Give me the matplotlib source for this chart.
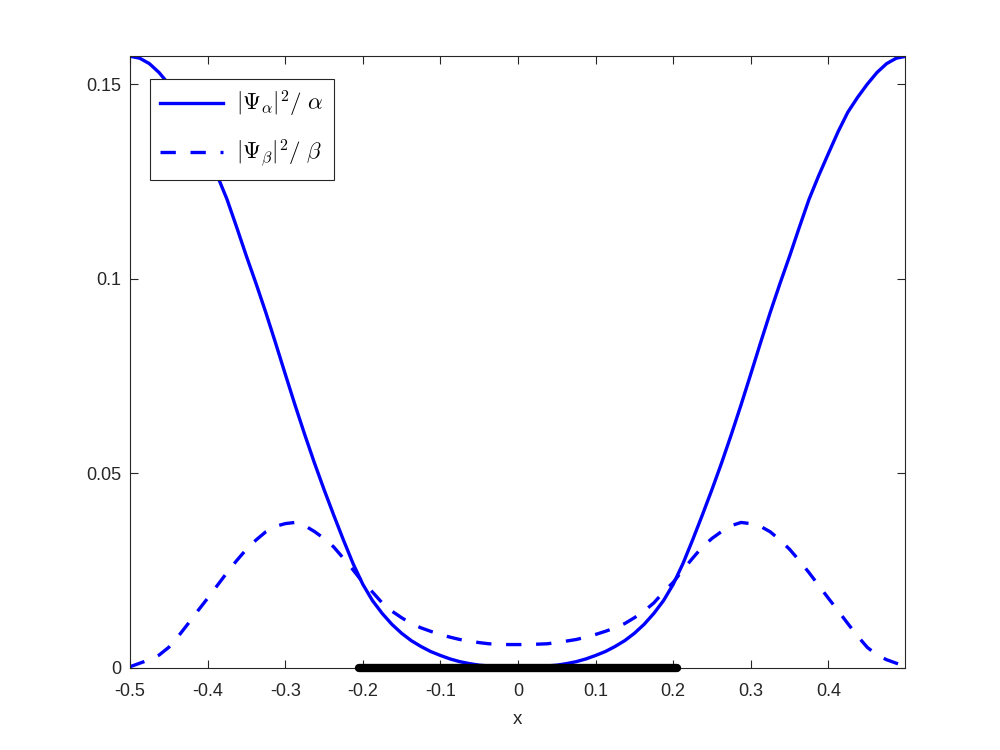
"""|Psi|^2 profile plot (MATLAB style)"""

import numpy as np
import matplotlib
matplotlib.use("Agg")
import matplotlib.pyplot as plt

# x 격자: -0.5 ~ 0.5, 간격 0.0125
x_vals = np.round(np.arange(-40, 41) * 0.0125, 4)

# |Psi_alpha|^2 / alpha
psi_alpha = [0.1572, 0.1567, 0.1553, 0.1530, 0.1500, 0.1466, 0.1428, 0.1378, 0.1322,
             0.1265, 0.1204, 0.1132, 0.1058, 0.0987, 0.0913, 0.0835, 0.0755, 0.0676,
             0.0600, 0.0527, 0.0458, 0.0392, 0.0328, 0.0267, 0.0214, 0.0172, 0.0139,
             0.0111, 0.0088, 0.0069, 0.0054, 0.0041, 0.0031, 0.0022, 0.0015, 0.0010,
             0.0006, 0.0004, 0.0002, 0.0001, 0.0000,
             0.0001, 0.0002, 0.0004, 0.0006, 0.0010, 0.0015, 0.0022, 0.0031, 0.0041,
             0.0054, 0.0069, 0.0088, 0.0111, 0.0139, 0.0172, 0.0214, 0.0267, 0.0328,
             0.0392, 0.0458, 0.0527, 0.0600, 0.0676, 0.0755, 0.0835, 0.0913, 0.0987,
             0.1058, 0.1132, 0.1204, 0.1265, 0.1322, 0.1378, 0.1428, 0.1466, 0.1500,
             0.1530, 0.1553, 0.1567, 0.1572]

# |Psi_beta|^2 / beta
psi_beta = [0.0002, 0.0011, 0.0020, 0.0032, 0.0052, 0.0081, 0.0113, 0.0146, 0.0178,
            0.0211, 0.0244, 0.0275, 0.0304, 0.0328, 0.0349, 0.0363, 0.0370, 0.0373,
            0.0365, 0.0350, 0.0332, 0.0310, 0.0281, 0.0251, 0.0219, 0.0194, 0.0166,
            0.0145, 0.0128, 0.0113, 0.0102, 0.0093, 0.0085, 0.0078, 0.0072, 0.0068,
            0.0064, 0.0061, 0.0060, 0.0059, 0.0059,
            0.0059, 0.0060, 0.0061, 0.0064, 0.0068, 0.0072, 0.0078, 0.0085, 0.0093,
            0.0102, 0.0113, 0.0128, 0.0145, 0.0166, 0.0194, 0.0219, 0.0251, 0.0281,
            0.0310, 0.0332, 0.0350, 0.0365, 0.0373, 0.0370, 0.0363, 0.0349, 0.0328,
            0.0304, 0.0275, 0.0244, 0.0211, 0.0178, 0.0146, 0.0113, 0.0081, 0.0052,
            0.0032, 0.0020, 0.0011, 0.0002]

# 굵은 검정 구간 (x축 위)
seg_x = [-0.205, 0.205]
seg_y = [0.0, 0.0]

xtick_vals = [-0.5, -0.4, -0.3, -0.2, -0.1, 0, 0.1, 0.2, 0.3, 0.4]
xtick_labels = ['-0.5', '-0.4', '-0.3', '-0.2', '-0.1', '0', '0.1', '0.2', '0.3', '0.4']
ytick_vals = [0, 0.05, 0.1, 0.15]
ytick_labels = ['0', '0.05', '0.1', '0.15']

plt.rcParams['font.family'] = ['Liberation Sans', 'DejaVu Sans']
plt.rcParams['mathtext.fontset'] = 'cm'

axc = (0.15, 0.15, 0.15)

fig = plt.figure(figsize=(10, 7.5), dpi=100)
ax = fig.add_axes([0.13, 0.11, 0.775, 0.815])

ax.plot(x_vals, psi_alpha, color='#0000ff', lw=2.4,
        label=r'$|\Psi_{\alpha}|^2/\ \alpha$')
ax.plot(x_vals, psi_beta, color='#0000ff', lw=2.4, dashes=(4.6, 4.4),
        label=r'$|\Psi_{\beta}|^2/\ \beta$')
ax.plot(seg_x, seg_y, color='black', lw=6, solid_capstyle='round',
        clip_on=False, zorder=5)

ax.set_xlim(-0.5, 0.4987)
ax.set_ylim(0, 0.1572)
ax.set_xticks(xtick_vals)
ax.set_xticklabels(xtick_labels)
ax.set_yticks(ytick_vals)
ax.set_yticklabels(ytick_labels)

ax.tick_params(direction='in', top=True, right=True, length=6, width=0.8,
               colors=axc, labelsize=13)
ax.tick_params(axis='x', pad=11.5)
ax.tick_params(axis='y', pad=6)
for s in ax.spines.values():
    s.set_color(axc)
    s.set_linewidth(0.8)

ax.set_xlabel('x', fontsize=13.5, color=axc, labelpad=7.5)

leg = ax.legend(loc='upper left', bbox_to_anchor=(0.026, 0.963), fontsize=16.5,
                handlelength=2.75, frameon=True, fancybox=False, framealpha=1,
                borderpad=0.45, labelspacing=0.8, handletextpad=0.55,
                borderaxespad=0)
leg.get_frame().set_edgecolor(axc)
leg.get_frame().set_linewidth(0.8)

fig.savefig('out.png', dpi=100)
